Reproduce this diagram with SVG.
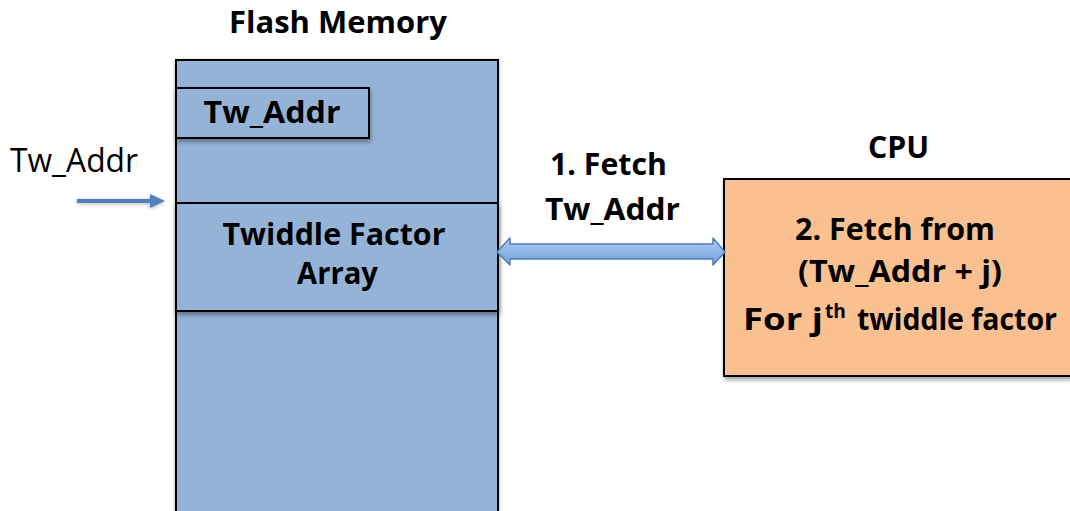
<svg xmlns="http://www.w3.org/2000/svg" width="1070" height="511" viewBox="0 0 1070 511">
  <style>
    .bold { font-family: "Open Sans", "Liberation Sans", sans-serif; font-weight: bold; font-size: 31px; fill: #000; }
    .plain { font-family: "Open Sans", "Liberation Sans", sans-serif; font-size: 32px; fill: #000; }
    .mem { fill: #95b3d7; stroke: #000; stroke-width: 2; }
    .cpu { fill: #fac090; stroke: #000; stroke-width: 2; }
  </style>
  <defs>
    <filter id="shadow" x="-10%" y="-10%" width="130%" height="130%">
      <feDropShadow dx="1" dy="3" stdDeviation="2" flood-color="#000" flood-opacity="0.35"/>
    </filter>
    <filter id="glow" x="-10%" y="-10%" width="120%" height="120%">
      <feDropShadow dx="0" dy="1" stdDeviation="2" flood-color="#000" flood-opacity="0.3"/>
    </filter>
    <linearGradient id="arrowFill" x1="0" y1="0" x2="0" y2="1">
      <stop offset="0" stop-color="#b5cff2"/>
      <stop offset="0.5" stop-color="#8fb5e6"/>
      <stop offset="1" stop-color="#78a0d8"/>
    </linearGradient>
  </defs>
  <rect width="1070" height="511" fill="#fff"/>

  <!-- Flash memory column -->
  <g id="flash-memory">
    <rect class="mem" x="176" y="60" width="322" height="452" filter="url(#glow)"/>
    <text class="bold" x="338" y="33" text-anchor="middle" textLength="218" lengthAdjust="spacingAndGlyphs">Flash Memory</text>
  </g>

  <g id="tw-addr-slot">
    <rect class="mem" x="176" y="88" width="193" height="50" filter="url(#shadow)"/>
    <text class="bold" x="272" y="123" text-anchor="middle" textLength="137" lengthAdjust="spacingAndGlyphs">Tw_Addr</text>
  </g>

  <g id="twiddle-array">
    <rect class="mem" x="176" y="203" width="322" height="108" filter="url(#shadow)"/>
    <text class="bold" x="334" y="245" text-anchor="middle" textLength="223" lengthAdjust="spacingAndGlyphs">Twiddle Factor</text>
    <text class="bold" x="337.5" y="284" text-anchor="middle" textLength="81" lengthAdjust="spacingAndGlyphs">Array</text>
  </g>

  <!-- CPU block (runs off the right edge) -->
  <g id="cpu">
    <rect class="cpu" x="724" y="179" width="348" height="197" filter="url(#shadow)"/>
    <text class="bold" x="898.5" y="158" text-anchor="middle" textLength="61" lengthAdjust="spacingAndGlyphs">CPU</text>
    <text class="bold" x="895" y="240" text-anchor="middle" textLength="200" lengthAdjust="spacingAndGlyphs">2. Fetch from</text>
    <text class="bold" x="900" y="282" text-anchor="middle" textLength="204" lengthAdjust="spacingAndGlyphs">(Tw_Addr + j)</text>
    <text class="bold" x="743" y="330" textLength="80" lengthAdjust="spacingAndGlyphs">For j</text>
    <text class="bold" x="825" y="318" style="font-size:19px" textLength="21" lengthAdjust="spacingAndGlyphs">th</text>
    <text class="bold" x="857" y="330" textLength="200" lengthAdjust="spacingAndGlyphs">twiddle factor</text>
  </g>

  <!-- Connectors -->
  <g id="connectors">
    <g id="addr-input" filter="url(#glow)">
      <line x1="77" y1="201" x2="152" y2="201" stroke="#4f81bd" stroke-width="4"/>
      <polygon points="150,194 165,201 150,208" fill="#4f81bd"/>
    </g>
    <polygon id="fetch-link" points="497,252 510,238 510,244 713,244 713,238 725,252 713,265 713,259 510,259 510,265" fill="url(#arrowFill)" stroke="#4a7ebb" stroke-width="1.5" stroke-linejoin="round"/>
  </g>

  <g id="labels">
    <text class="plain" x="10" y="172" textLength="128" lengthAdjust="spacingAndGlyphs">Tw_Addr</text>
    <text class="bold" x="608.5" y="175" text-anchor="middle" textLength="117" lengthAdjust="spacingAndGlyphs">1. Fetch</text>
    <text class="bold" x="612.5" y="220" text-anchor="middle" textLength="135" lengthAdjust="spacingAndGlyphs">Tw_Addr</text>
  </g>
</svg>
